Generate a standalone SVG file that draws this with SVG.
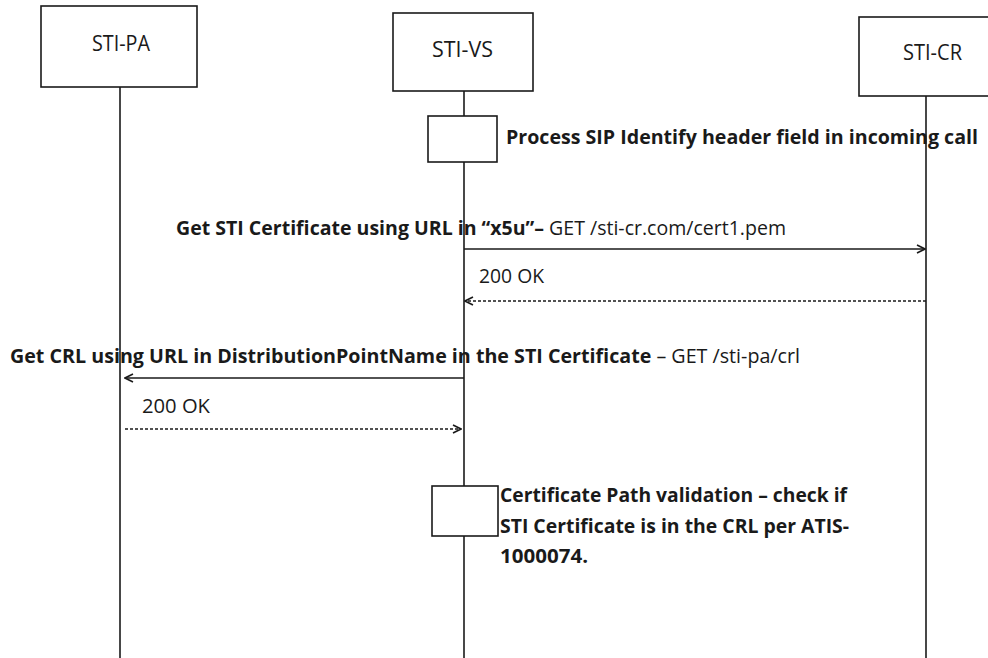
<svg xmlns="http://www.w3.org/2000/svg" width="988" height="658" viewBox="0 0 988 658">
<defs>
<style>
.box{fill:#fff;stroke:#1a1a1a;stroke-width:1.6}
.life{stroke:#1a1a1a;stroke-width:1.6;fill:none}
.msg{stroke:#1a1a1a;stroke-width:1.6;fill:none}
.dash{stroke-dasharray:3 2}
.hdr{font-family:"Open Sans","Liberation Sans",sans-serif;font-size:21px;fill:#1a1a1a}
.b{font-family:"Open Sans","Liberation Sans",sans-serif;font-size:20px;font-weight:bold;fill:#1a1a1a}
.n{font-family:"Open Sans","Liberation Sans",sans-serif;font-size:20px;fill:#1a1a1a}
.tb{font-weight:bold}
.tn{font-weight:normal}
</style>
<marker id="arr" viewBox="0 0 10 10" refX="9" refY="5" markerWidth="10" markerHeight="10" markerUnits="userSpaceOnUse" orient="auto">
<path d="M1,1 L9,5 L1,9" fill="none" stroke="#1a1a1a" stroke-width="1.6"/>
</marker>
</defs>
<rect width="988" height="658" fill="#fff"/>
<g id="lifelines">
<line class="life" x1="120" y1="87" x2="120" y2="658"/>
<line class="life" x1="464" y1="91" x2="464" y2="658"/>
<line class="life" x1="926" y1="96" x2="926" y2="658"/>
</g>
<g id="sti-pa">
<rect class="box" x="41" y="6" width="156" height="81"/>
<text class="hdr" x="92" y="51" textLength="58" lengthAdjust="spacingAndGlyphs">STI-PA</text>
</g>
<g id="sti-vs">
<rect class="box" x="393" y="13" width="140" height="78"/>
<text class="hdr" x="432" y="57" textLength="61" lengthAdjust="spacingAndGlyphs">STI-VS</text>
</g>
<g id="sti-cr">
<rect class="box" x="859" y="17" width="140" height="79"/>
<text class="hdr" x="903" y="60" textLength="59" lengthAdjust="spacingAndGlyphs">STI-CR</text>
</g>
<g id="process-sip">
<rect class="box" x="428" y="116" width="69" height="46"/>
<text class="b" x="506" y="144" textLength="472" lengthAdjust="spacingAndGlyphs">Process SIP  Identify header field in incoming call</text>
</g>
<g id="cert-validation">
<rect class="box" x="432" y="486" width="66" height="50"/>
<text class="b" x="500" y="502" textLength="347" lengthAdjust="spacingAndGlyphs">Certificate Path validation – check if</text>
<text class="b" x="500" y="533" textLength="349" lengthAdjust="spacingAndGlyphs">STI Certificate is in the CRL per ATIS-</text>
<text class="b" x="500" y="563" textLength="88" lengthAdjust="spacingAndGlyphs">1000074.</text>
</g>
<g id="connectors">
<line class="msg" x1="464" y1="249" x2="925" y2="249" marker-end="url(#arr)"/>
<line class="msg dash" x1="926" y1="301" x2="465" y2="301" marker-end="url(#arr)"/>
<line class="msg" x1="464" y1="378" x2="125" y2="378" marker-end="url(#arr)"/>
<line class="msg dash" x1="125" y1="429" x2="461" y2="429" marker-end="url(#arr)"/>
</g>
<g id="labels">
<text class="n" x="176" y="235" textLength="610" lengthAdjust="spacingAndGlyphs"><tspan class="tb">Get STI Certificate using URL in “x5u”–</tspan><tspan class="tn"> GET /sti-cr.com/cert1.pem</tspan></text>
<text class="n" x="479" y="283" textLength="65" lengthAdjust="spacingAndGlyphs">200 OK</text>
<text class="n" x="10" y="363" textLength="790" lengthAdjust="spacingAndGlyphs"><tspan class="tb">Get CRL using URL in DistributionPointName in the STI Certificate</tspan><tspan class="tn"> – GET /sti-pa/crl</tspan></text>
<text class="n" x="142" y="413" textLength="68" lengthAdjust="spacingAndGlyphs">200 OK</text>
</g>
</svg>
